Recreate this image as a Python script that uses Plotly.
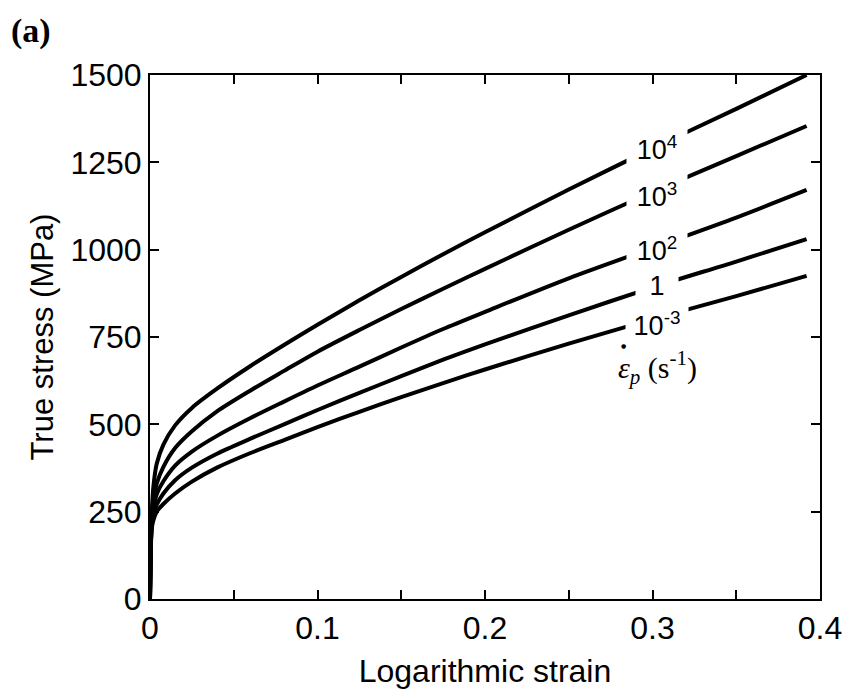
import numpy as np
import plotly.graph_objects as go

# Logarithmic strain sample points shared by every curve
strain = [0, 0.0005, 0.001, 0.002, 0.004, 0.008, 0.015, 0.025, 0.04, 0.06,
          0.08, 0.1, 0.125, 0.15, 0.175, 0.2, 0.25, 0.3, 0.35, 0.392]

# True stress (MPa) at each plastic strain rate
stress_1e4 = [0, 150, 240, 320, 387, 442, 497, 547, 602, 667,
              727, 785, 855, 922, 987, 1050, 1172, 1290, 1403, 1500]
stress_1e3 = [0, 150, 230, 285, 330, 378, 432, 480, 537, 597,
              653, 708, 770, 830, 888, 945, 1057, 1165, 1268, 1354]
stress_1e2 = [0, 150, 220, 260, 300, 337, 382, 422, 467, 518,
              565, 611, 665, 720, 773, 822, 918, 1005, 1092, 1171]
stress_1e0 = [0, 150, 210, 240, 270, 302, 340, 376, 416, 459,
              500, 541, 590, 638, 685, 729, 812, 892, 966, 1030]
stress_1em3 = [0, 140, 200, 225, 250, 272, 302, 336, 376, 418,
               455, 492, 536, 578, 618, 657, 731, 801, 867, 925]

series = [stress_1e4, stress_1e3, stress_1e2, stress_1e0, stress_1em3]
rate_labels = ["10<sup>4</sup>", "10<sup>3</sup>", "10<sup>2</sup>", "1", "10<sup>-3</sup>"]

x_ticks = [0, 0.1, 0.2, 0.3, 0.4]
y_ticks = [0, 250, 500, 750, 1000, 1250, 1500]

SANS = "Arial, Liberation Sans, sans-serif"
SERIF = "Times New Roman, Liberation Serif, serif"

fig = go.Figure()
for ys in series:
    fig.add_trace(go.Scatter(x=strain, y=ys, mode="lines",
                             line=dict(color="black", width=4, shape="spline", smoothing=0.8),
                             showlegend=False, hoverinfo="skip"))

# Rate labels sit on their curves, with a white box breaking the line
label_strain = 0.3027
label_sizes = [(58, 40), (58, 40), (58, 36), (40, 32), (60, 32)]
label_shift = [-2, -5, -3, 0, -6]
for ys, txt, (w, h), dy in zip(series, rate_labels, label_sizes, label_shift):
    yv = float(np.interp(label_strain, strain, ys))
    fig.add_annotation(x=label_strain, y=yv, text=txt, showarrow=False,
                       font=dict(family=SANS, size=27, color="black"),
                       bgcolor="white", width=w, height=h, yshift=dy,
                       xanchor="center", yanchor="middle")

# Plastic strain-rate symbol with its unit
fig.add_annotation(x=label_strain, y=664,
                   text="<i>ε</i><sub><i>p</i></sub> (s<sup>-1</sup>)",
                   showarrow=False, xanchor="center", yanchor="middle",
                   font=dict(family=SERIF, size=30, color="black"))
# time-derivative dot over the epsilon
fig.add_annotation(x=0.2828, y=664, yshift=22, text="●", showarrow=False,
                   xanchor="center", yanchor="middle",
                   font=dict(family="DejaVu Sans", size=6, color="black"))

fig.add_annotation(x=-0.211, y=1.125, xref="paper", yref="paper", text="<b>(a)</b>",
                   showarrow=False, xanchor="left", yanchor="top",
                   font=dict(family=SERIF, size=34, color="black"))

axis_common = dict(showline=True, linecolor="black", linewidth=2, mirror="ticks",
                   ticks="inside", ticklen=9, tickwidth=1.6, tickcolor="black",
                   showgrid=False, zeroline=False,
                   tickfont=dict(family=SANS, size=32, color="black"))

fig.update_xaxes(range=[0, 0.4], tickvals=x_ticks,
                 ticktext=["0", "0.1", "0.2", "0.3", "0.4"],
                 minor=dict(dtick=0.05, ticks="inside", ticklen=9, tickwidth=1.6,
                            tickcolor="black", showgrid=False),
                 title=dict(text="Logarithmic strain", standoff=14,
                            font=dict(family=SANS, size=32, color="black")),
                 **axis_common)
fig.update_yaxes(range=[0, 1500], tickvals=y_ticks,
                 title=dict(text="True stress (MPa)", standoff=8,
                            font=dict(family=SANS, size=31, color="black")),
                 **axis_common)

fig.update_layout(width=843, height=695, plot_bgcolor="white", paper_bgcolor="white",
                  margin=dict(l=150, r=23, t=75, b=96, autoexpand=False))

fig.write_html("out.html")
